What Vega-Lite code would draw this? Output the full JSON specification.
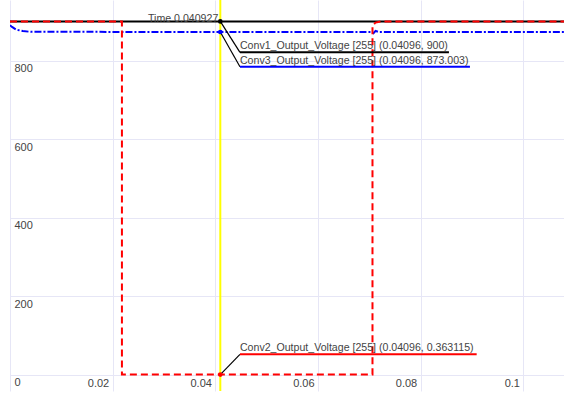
{
  "$schema": "https://vega.github.io/schema/vega-lite/v6.json",
  "width": 554,
  "height": 391,
  "autosize": {"type": "none"},
  "padding": {"left": 10, "top": 0, "right": 0, "bottom": 12},
  "background": "white",
  "config": {"view": {"stroke": null}, "font": "Liberation Sans"},
  "datasets": {
    "lines": [
      {"series": "Conv1", "i": 0, "t": 0, "v": 900},
      {"series": "Conv1", "i": 1, "t": 0.108, "v": 900},
      {"series": "Conv3", "i": 0, "t": 0, "v": 890},
      {"series": "Conv3", "i": 1, "t": 0.0004, "v": 886},
      {"series": "Conv3", "i": 2, "t": 0.0012, "v": 879},
      {"series": "Conv3", "i": 3, "t": 0.0025, "v": 875.5},
      {"series": "Conv3", "i": 4, "t": 0.004, "v": 873.5},
      {"series": "Conv3", "i": 5, "t": 0.0704, "v": 873},
      {"series": "Conv3", "i": 6, "t": 0.0708, "v": 870},
      {"series": "Conv3", "i": 7, "t": 0.0712, "v": 876},
      {"series": "Conv3", "i": 8, "t": 0.0718, "v": 873},
      {"series": "Conv3", "i": 9, "t": 0.108, "v": 873},
      {"series": "Conv2", "i": 0, "t": 0, "v": 900},
      {"series": "Conv2", "i": 1, "t": 0.0218, "v": 900},
      {"series": "Conv2", "i": 2, "t": 0.0218, "v": 0.36},
      {"series": "Conv2", "i": 3, "t": 0.0706, "v": 0.36},
      {"series": "Conv2", "i": 4, "t": 0.0706, "v": 890},
      {"series": "Conv2", "i": 5, "t": 0.0712, "v": 897},
      {"series": "Conv2", "i": 6, "t": 0.0722, "v": 900},
      {"series": "Conv2", "i": 7, "t": 0.108, "v": 900}
    ],
    "cursor": [{"t": 0.04096, "v": 900, "label": "Time 0.040927"}],
    "markers": [
      {"series": "Conv1", "t": 0.04096, "v": 900, "tl": 0.04479, "vl": 821.3, "tu": 0.08549, "label": "Conv1_Output_Voltage [255] (0.04096, 900)"},
      {"series": "Conv3", "t": 0.04096, "v": 873.003, "tl": 0.04479, "vl": 784.6, "tu": 0.08958, "label": "Conv3_Output_Voltage [255] (0.04096, 873.003)"},
      {"series": "Conv2", "t": 0.04096, "v": 0.363115, "tl": 0.04479, "vl": 52.0, "tu": 0.09089, "label": "Conv2_Output_Voltage [255] (0.04096, 0.363115)"}
    ]
  },
  "layer": [
    {
      "data": {"name": "lines"},
      "transform": [{"filter": "datum.series == 'Conv1'"}],
      "mark": {"type": "line", "color": "#000000", "strokeWidth": 2, "clip": true},
      "encoding": {
        "x": {"field": "t", "type": "quantitative", "title": null,
          "scale": {"domain": [0, 0.1079], "nice": false, "zero": false},
          "axis": {"values": [0, 0.02, 0.04, 0.06, 0.08, 0.1], "labelExpr": "datum.value == 0 ? '' : format(datum.value, '.2~f')",
            "grid": true, "gridColor": "#e6e6f6", "gridWidth": 1, "domain": false, "ticks": false,
            "labelFont": "Liberation Sans", "labelFontSize": 11, "labelColor": "#444444",
            "labelBaseline": "middle", "labelPadding": -8, "labelAlign": "right", "labelOffset": -4,
            "labelFlush": false, "labelOverlap": false}},
        "y": {"field": "v", "type": "quantitative", "title": null,
          "scale": {"domain": [-41.5, 954.6], "nice": false, "zero": false},
          "axis": {"values": [0, 200, 400, 600, 800], "grid": true, "gridColor": "#e6e6f6", "gridWidth": 1, "domain": false, "ticks": false,
            "labelFont": "Liberation Sans", "labelFontSize": 11, "labelColor": "#444444",
            "labelAlign": "left", "labelPadding": -4, "labelBaseline": "top", "labelOffset": 2,
            "labelFlush": false, "labelOverlap": false}},
        "order": {"field": "i", "type": "quantitative"}
      }
    },
    {
      "data": {"name": "lines"},
      "transform": [{"filter": "datum.series == 'Conv3'"}],
      "mark": {"type": "line", "color": "#0000ff", "strokeWidth": 2, "strokeDash": [7, 2, 2, 2], "clip": true},
      "encoding": {
        "x": {"field": "t", "type": "quantitative", "title": null},
        "y": {"field": "v", "type": "quantitative", "title": null},
        "order": {"field": "i", "type": "quantitative"}
      }
    },
    {
      "data": {"name": "lines"},
      "transform": [{"filter": "datum.series == 'Conv2'"}],
      "mark": {"type": "line", "color": "#ff0000", "strokeWidth": 2, "strokeDash": [7, 4], "clip": true},
      "encoding": {
        "x": {"field": "t", "type": "quantitative", "title": null},
        "y": {"field": "v", "type": "quantitative", "title": null},
        "order": {"field": "i", "type": "quantitative"}
      }
    },
    {
      "data": {"name": "cursor"},
      "mark": {"type": "rule", "color": "#ffff00", "strokeWidth": 2},
      "encoding": {
        "x": {"field": "t", "type": "quantitative", "title": null}
      }
    },
    {
      "data": {"name": "cursor"},
      "mark": {"type": "text", "align": "right", "baseline": "alphabetic", "dx": -2, "dy": 1, "fontSize": 10.6, "font": "Liberation Sans", "color": "#444444"},
      "encoding": {
        "x": {"field": "t", "type": "quantitative", "title": null},
        "y": {"field": "v", "type": "quantitative", "title": null},
        "text": {"field": "label"}
      }
    },
    {
      "data": {"name": "markers"},
      "mark": {"type": "rule", "strokeWidth": 1.2},
      "encoding": {
        "x": {"field": "t", "type": "quantitative", "title": null},
        "y": {"field": "v", "type": "quantitative", "title": null},
        "x2": {"field": "tl"},
        "y2": {"field": "vl"},
        "color": {"value": "#000000"}
      }
    },
    {
      "data": {"name": "markers"},
      "mark": {"type": "rule", "strokeWidth": 2},
      "encoding": {
        "x": {"field": "tl", "type": "quantitative", "title": null},
        "y": {"field": "vl", "type": "quantitative", "title": null},
        "x2": {"field": "tu"},
        "color": {"field": "series", "type": "nominal", "scale": {"domain": ["Conv1", "Conv2", "Conv3"], "range": ["#000000", "#ff0000", "#0000ff"]}, "legend": null}
      }
    },
    {
      "data": {"name": "markers"},
      "mark": {"type": "point", "filled": true, "size": 22, "opacity": 1},
      "encoding": {
        "x": {"field": "t", "type": "quantitative", "title": null},
        "y": {"field": "v", "type": "quantitative", "title": null},
        "color": {"field": "series", "type": "nominal", "scale": {"domain": ["Conv1", "Conv2", "Conv3"], "range": ["#000000", "#ff0000", "#0000ff"]}, "legend": null}
      }
    },
    {
      "data": {"name": "markers"},
      "mark": {"type": "text", "align": "left", "baseline": "bottom", "dy": -1, "fontSize": 10.6, "font": "Liberation Sans", "color": "#444444"},
      "encoding": {
        "x": {"field": "tl", "type": "quantitative", "title": null},
        "y": {"field": "vl", "type": "quantitative", "title": null},
        "text": {"field": "label"}
      }
    }
  ]
}
